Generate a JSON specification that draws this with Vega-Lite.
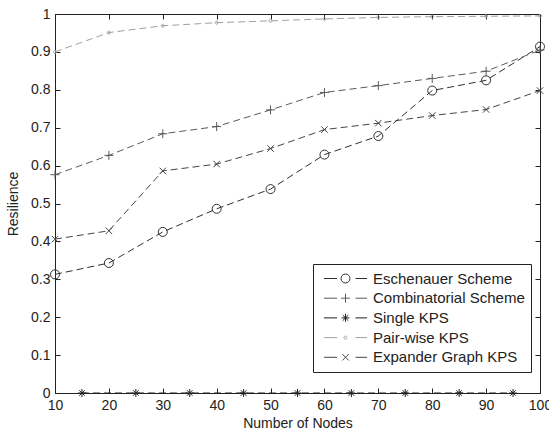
{
  "$schema": "https://vega.github.io/schema/vega-lite/v6.json",
  "width": 485,
  "height": 379,
  "autosize": {"type": "none"},
  "padding": {"left": 55, "top": 14, "right": 9, "bottom": 39},
  "background": "white",
  "config": {
    "font": "Liberation Sans",
    "view": {"stroke": "#222", "strokeWidth": 1},
    "axis": {
      "grid": false,
      "domainColor": "#222",
      "domainWidth": 1,
      "tickColor": "#222",
      "tickWidth": 1,
      "tickSize": -5,
      "labelColor": "#222",
      "labelFont": "Liberation Sans",
      "labelFontSize": 14,
      "labelFlush": false,
      "titleFont": "Liberation Sans",
      "titleFontSize": 14,
      "titleFontWeight": "normal",
      "titleColor": "#222"
    },
    "legend": {
      "orient": "none", "legendX": 258, "legendY": 250,
      "padding": 6, "strokeColor": "#222", "fillColor": "white",
      "labelFont": "Liberation Sans", "labelFontSize": 15, "labelColor": "#222", "labelLimit": 300,
      "symbolSize": 256, "symbolStrokeWidth": 1, "symbolOffset": 18, "labelOffset": 19, "rowPadding": 2.7
    }
  },
  "data": {
    "values": [
      {"series": "Eschenauer Scheme", "x": 10, "y": 0.313},
      {"series": "Eschenauer Scheme", "x": 20, "y": 0.343},
      {"series": "Eschenauer Scheme", "x": 30, "y": 0.425},
      {"series": "Eschenauer Scheme", "x": 40, "y": 0.486},
      {"series": "Eschenauer Scheme", "x": 50, "y": 0.538},
      {"series": "Eschenauer Scheme", "x": 60, "y": 0.629},
      {"series": "Eschenauer Scheme", "x": 70, "y": 0.678},
      {"series": "Eschenauer Scheme", "x": 80, "y": 0.798},
      {"series": "Eschenauer Scheme", "x": 90, "y": 0.825},
      {"series": "Eschenauer Scheme", "x": 100, "y": 0.914},
      {"series": "Combinatorial Scheme", "x": 10, "y": 0.576},
      {"series": "Combinatorial Scheme", "x": 20, "y": 0.627},
      {"series": "Combinatorial Scheme", "x": 30, "y": 0.684},
      {"series": "Combinatorial Scheme", "x": 40, "y": 0.703},
      {"series": "Combinatorial Scheme", "x": 50, "y": 0.747},
      {"series": "Combinatorial Scheme", "x": 60, "y": 0.793},
      {"series": "Combinatorial Scheme", "x": 70, "y": 0.811},
      {"series": "Combinatorial Scheme", "x": 80, "y": 0.830},
      {"series": "Combinatorial Scheme", "x": 90, "y": 0.849},
      {"series": "Combinatorial Scheme", "x": 100, "y": 0.905},
      {"series": "Single KPS", "x": 15, "y": 0},
      {"series": "Single KPS", "x": 25, "y": 0},
      {"series": "Single KPS", "x": 35, "y": 0},
      {"series": "Single KPS", "x": 45, "y": 0},
      {"series": "Single KPS", "x": 55, "y": 0},
      {"series": "Single KPS", "x": 65, "y": 0},
      {"series": "Single KPS", "x": 75, "y": 0},
      {"series": "Single KPS", "x": 85, "y": 0},
      {"series": "Single KPS", "x": 95, "y": 0},
      {"series": "Pair-wise KPS", "x": 10, "y": 0.900},
      {"series": "Pair-wise KPS", "x": 20, "y": 0.951},
      {"series": "Pair-wise KPS", "x": 30, "y": 0.969},
      {"series": "Pair-wise KPS", "x": 40, "y": 0.977},
      {"series": "Pair-wise KPS", "x": 50, "y": 0.982},
      {"series": "Pair-wise KPS", "x": 60, "y": 0.987},
      {"series": "Pair-wise KPS", "x": 70, "y": 0.991},
      {"series": "Pair-wise KPS", "x": 80, "y": 0.993},
      {"series": "Pair-wise KPS", "x": 90, "y": 0.994},
      {"series": "Pair-wise KPS", "x": 100, "y": 0.995},
      {"series": "Expander Graph KPS", "x": 10, "y": 0.406},
      {"series": "Expander Graph KPS", "x": 20, "y": 0.428},
      {"series": "Expander Graph KPS", "x": 30, "y": 0.586},
      {"series": "Expander Graph KPS", "x": 40, "y": 0.604},
      {"series": "Expander Graph KPS", "x": 50, "y": 0.645},
      {"series": "Expander Graph KPS", "x": 60, "y": 0.695},
      {"series": "Expander Graph KPS", "x": 70, "y": 0.712},
      {"series": "Expander Graph KPS", "x": 80, "y": 0.732},
      {"series": "Expander Graph KPS", "x": 90, "y": 0.748},
      {"series": "Expander Graph KPS", "x": 100, "y": 0.798}
    ]
  },
  "layer": [
    {
      "mark": {"type": "line", "strokeDash": [7, 4], "strokeWidth": 1},
      "encoding": {
        "x": {
          "field": "x", "type": "quantitative",
          "scale": {"domain": [10, 100], "nice": false, "zero": false},
          "axis": {"orient": "bottom", "values": [10, 20, 30, 40, 50, 60, 70, 80, 90, 100], "format": "d", "labelPadding": 10, "labelFlush": false, "title": "Number of Nodes", "titlePadding": 4}
        },
        "y": {
          "field": "y", "type": "quantitative",
          "scale": {"domain": [0, 1], "nice": false, "zero": false},
          "axis": {"orient": "left", "values": [0, 0.1, 0.2, 0.3, 0.4, 0.5, 0.6, 0.7, 0.8, 0.9, 1], "format": "~g", "labelPadding": 10, "labelFlush": false, "title": "Resilience", "titlePadding": 10}
        },
        "color": {
          "field": "series", "type": "nominal",
          "scale": {
            "domain": ["Eschenauer Scheme", "Combinatorial Scheme", "Single KPS", "Pair-wise KPS", "Expander Graph KPS"],
            "range": ["#303030", "#5a5a5a", "#202020", "#a0a0a0", "#454545"]
          },
          "legend": null
        }
      }
    },
    {
      "mark": {"type": "point", "filled": false, "size": 100, "strokeWidth": 1, "opacity": 1},
      "encoding": {
        "x": {
          "field": "x", "type": "quantitative",
          "axis": {"orient": "top", "values": [10, 20, 30, 40, 50, 60, 70, 80, 90, 100], "labels": false, "title": null}
        },
        "y": {
          "field": "y", "type": "quantitative",
          "axis": {"orient": "right", "values": [0, 0.1, 0.2, 0.3, 0.4, 0.5, 0.6, 0.7, 0.8, 0.9, 1], "labels": false, "title": null}
        },
        "color": {
          "field": "series", "type": "nominal",
          "scale": {
            "domain": ["Eschenauer Scheme", "Combinatorial Scheme", "Single KPS", "Pair-wise KPS", "Expander Graph KPS"],
            "range": ["#303030", "#5a5a5a", "#202020", "#a0a0a0", "#454545"]
          },
          "legend": null
        },
        "shape": {
          "field": "series", "type": "nominal",
          "scale": {
            "domain": ["Eschenauer Scheme", "Combinatorial Scheme", "Single KPS", "Pair-wise KPS", "Expander Graph KPS"],
            "range": [
              "M-0.9,0A0.9,0.9 0 1,0 0.9,0A0.9,0.9 0 1,0 -0.9,0",
              "M-0.9,0L0.9,0M0,-0.9L0,0.9",
              "M-0.8,0L0.8,0M0,-0.8L0,0.8M-0.55,-0.55L0.55,0.55M-0.55,0.55L0.55,-0.55",
              "M-0.3,0A0.3,0.3 0 1,0 0.3,0A0.3,0.3 0 1,0 -0.3,0",
              "M-0.65,-0.65L0.65,0.65M-0.65,0.65L0.65,-0.65"
            ]
          },
          "legend": null
        }
      }
    },
    {
      "transform": [{"filter": "datum.x < 0"}],
      "mark": {"type": "point", "filled": false, "strokeWidth": 1, "opacity": 1},
      "encoding": {
        "x": {"field": "x", "type": "quantitative", "axis": null},
        "y": {"field": "y", "type": "quantitative", "axis": null},
        "color": {
          "field": "series", "type": "nominal",
          "scale": {
            "domain": ["Eschenauer Scheme", "Combinatorial Scheme", "Single KPS", "Pair-wise KPS", "Expander Graph KPS"],
            "range": ["#303030", "#5a5a5a", "#202020", "#a0a0a0", "#454545"]
          },
          "legend": {"title": null}
        },
        "shape": {
          "field": "series", "type": "nominal",
          "scale": {
            "domain": ["Eschenauer Scheme", "Combinatorial Scheme", "Single KPS", "Pair-wise KPS", "Expander Graph KPS"],
            "range": [
              "M-2.7,0L-1.05,0M1.25,0L2.7,0M-0.56,0A0.56,0.56 0 1,0 0.56,0A0.56,0.56 0 1,0 -0.56,0",
              "M-2.7,0L-1.05,0M1.25,0L2.7,0M-0.56,0L0.56,0M0,-0.56L0,0.56",
              "M-2.7,0L-1.05,0M1.25,0L2.7,0M-0.5,0L0.5,0M0,-0.5L0,0.5M-0.35,-0.35L0.35,0.35M-0.35,0.35L0.35,-0.35",
              "M-2.7,0L-1.05,0M1.25,0L2.7,0M-0.19,0A0.19,0.19 0 1,0 0.19,0A0.19,0.19 0 1,0 -0.19,0",
              "M-2.7,0L-1.05,0M1.25,0L2.7,0M-0.4,-0.4L0.4,0.4M-0.4,0.4L0.4,-0.4"
            ]
          },
          "legend": {"title": null}
        }
      }
    }
  ],
  "resolve": {
    "axis": {"x": "independent", "y": "independent"},
    "scale": {"color": "independent", "shape": "independent"}
  }
}
